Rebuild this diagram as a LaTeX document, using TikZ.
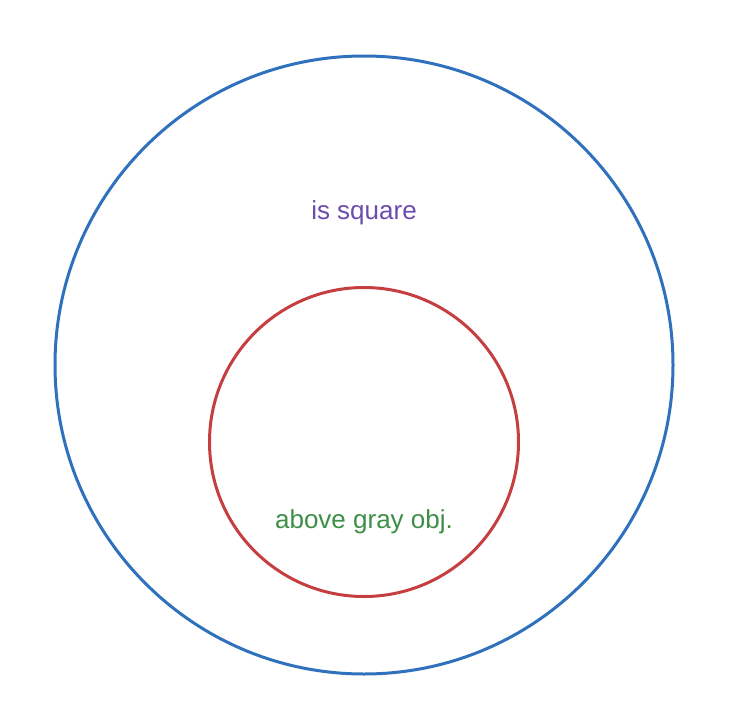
\documentclass[tikz,border=0pt]{standalone}
\usepackage{fontspec}
\setmainfont{Liberation Sans}
\usepackage{tikz}

\definecolor{outerblue}{HTML}{2F71BC}
\definecolor{innerred}{HTML}{C63F40}
\definecolor{labelpurple}{HTML}{6A4BB0}
\definecolor{labelgreen}{HTML}{3D8E46}

\tikzset{
    setring/.style={circle, draw, line width=3pt, inner sep=0pt},
    setlabel/.style={font=\fontsize{26}{30}\selectfont, inner sep=0pt}
}

\begin{document}
\begin{tikzpicture}[x=1pt, y=-1pt]
\useasboundingbox (0,0) rectangle (731,728);
% the two sets
\node[setring, draw=outerblue, minimum size=618pt] (square) at (364,365) {};
\node[setring, draw=innerred, minimum size=309pt] (above) at (364,442) {};
% their names
\node[setlabel, text=labelpurple] (squarename) at (364,213) {is square};
\node[setlabel, text=labelgreen] (abovename) at (364,522) {above gray obj.};
\end{tikzpicture}
\end{document}
